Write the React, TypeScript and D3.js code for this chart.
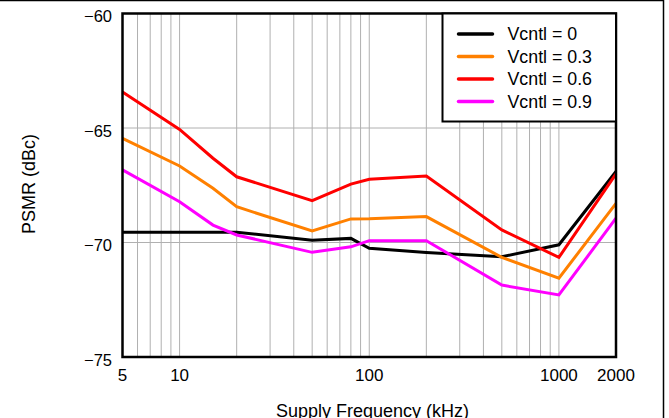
import React from "react";
import * as d3 from "d3";

const freqs = [5, 10, 15, 20, 50, 80, 100, 200, 500, 1000, 2000];
const vcntl0 = [-69.55, -69.55, -69.55, -69.55, -69.9, -69.82, -70.25, -70.44, -70.62, -70.1, -66.9];
const vcntl03 = [-65.45, -66.66, -67.63, -68.44, -69.5, -68.97, -68.96, -68.87, -70.65, -71.56, -68.29];
const vcntl06 = [-63.43, -65.06, -66.32, -67.13, -68.17, -67.45, -67.24, -67.1, -69.45, -70.65, -67.0];
const vcntl09 = [-66.83, -68.22, -69.24, -69.67, -70.43, -70.19, -69.92, -69.92, -71.86, -72.29, -68.94];

const seriesNames = ["Vcntl = 0", "Vcntl = 0.3", "Vcntl = 0.6", "Vcntl = 0.9"];
const seriesColors = ["#000000", "#ff8000", "#ff0000", "#ff00ff"];
const seriesValues = [vcntl0, vcntl03, vcntl06, vcntl09];

const xTickLabels = [5, 10, 100, 1000, 2000];
const yTicks = [-60, -65, -70, -75];
const yGrid = [-65, -70];

const W = 669;
const H = 418;
const L = 122.5, R = 616, T = 13.5, B = 357;

export default function App() {
  const x = d3.scaleLog().domain([5, 2000]).range([L, R]);
  const y = d3.scaleLinear().domain([-75, -60]).range([B, T]);

  const gridX: number[] = [];
  for (let dec = 1; dec <= 1000; dec *= 10) {
    for (let m = 1; m <= 9; m++) {
      const v = dec * m;
      if (v > 5 && v < 2000) gridX.push(v);
    }
  }

  const line = d3
    .line<[number, number]>()
    .x((d) => x(d[0]))
    .y((d) => y(d[1]));

  const font = "Liberation Sans, Arial, sans-serif";
  const legendX = 442.5;
  const legendRows = [34, 56.5, 79, 101.5];

  return (
    <svg
      width={W}
      height={H}
      style={{ position: "absolute", left: 0, top: 0, background: "#fff" }}
      fontFamily={font}
    >
      <rect x={0} y={0} width={W} height={H} fill="#fff" />
      {/* outer frame fragments */}
      <line x1={0} x2={664} y1={0.5} y2={0.5} stroke="#000" strokeWidth={1.5} />
      <line x1={663.5} x2={663.5} y1={0} y2={H} stroke="#000" strokeWidth={1.5} />

      {/* grid */}
      {gridX.map((v) => (
        <line
          key={"gx" + v}
          x1={x(v)}
          x2={x(v)}
          y1={T}
          y2={B}
          stroke="#b0b0b0"
          strokeWidth={1}
        />
      ))}
      {yGrid.map((v) => (
        <line
          key={"gy" + v}
          x1={L}
          x2={R}
          y1={y(v)}
          y2={y(v)}
          stroke="#b0b0b0"
          strokeWidth={1}
        />
      ))}

      {/* series */}
      {seriesValues.map((vals, i) => (
        <path
          key={seriesNames[i]}
          d={line(freqs.map((f, j) => [f, vals[j]] as [number, number])) || ""}
          fill="none"
          stroke={seriesColors[i]}
          strokeWidth={3}
          strokeLinejoin="miter"
        />
      ))}

      {/* plot frame */}
      <rect x={L} y={T} width={R - L} height={B - T} fill="none" stroke="#000" strokeWidth={2.5} />

      {/* legend */}
      <rect
        x={legendX}
        y={T}
        width={R - legendX}
        height={121.5 - T}
        fill="#fff"
        stroke="#000"
        strokeWidth={2}
      />
      {seriesNames.map((n, i) => (
        <g key={"lg" + n}>
          <line
            x1={458.5}
            x2={492.5}
            y1={legendRows[i]}
            y2={legendRows[i]}
            stroke={seriesColors[i]}
            strokeWidth={3.5}
            strokeLinecap="round"
          />
          <text x={507.5} y={legendRows[i] + 6.3} fontSize={17.8} fill="#000">
            {n}
          </text>
        </g>
      ))}

      {/* y tick labels */}
      {yTicks.map((v) => (
        <text
          key={"yt" + v}
          x={112}
          y={y(v) + 8.5}
          fontSize={16.5}
          textAnchor="end"
          fill="#000"
        >
          {"\u2212" + Math.abs(v)}
        </text>
      ))}

      {/* x tick labels */}
      {xTickLabels.map((v) => (
        <text
          key={"xt" + v}
          x={x(v)}
          y={380.5}
          fontSize={17}
          textAnchor="middle"
          fill="#000"
        >
          {v}
        </text>
      ))}

      {/* axis titles */}
      <text x={372.5} y={416.5} fontSize={18} textAnchor="middle" fill="#000">
        Supply Frequency (kHz)
      </text>
      <text
        transform={`translate(35,184) rotate(-90)`}
        fontSize={18}
        textAnchor="middle"
        fill="#000"
      >
        PSMR (dBc)
      </text>
    </svg>
  );
}
